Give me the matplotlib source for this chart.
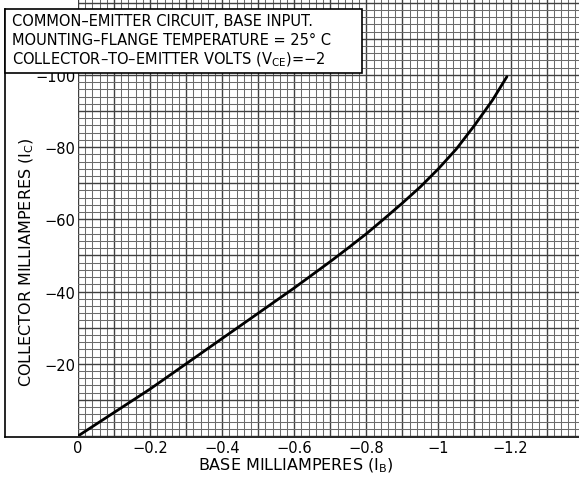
import numpy as np
import matplotlib
matplotlib.use("Agg")
import matplotlib.pyplot as plt
from matplotlib.patches import Rectangle
from matplotlib.lines import Line2D

# Transfer characteristic: base current vs collector current
ib = [0, -0.1, -0.2, -0.3, -0.4, -0.5, -0.6, -0.7, -0.75, -0.8, -0.85, -0.9,
      -0.95, -1.0, -1.05, -1.1, -1.15, -1.19]
ic = [0, -6.5, -13, -20, -27, -34, -41, -48.3, -52.1, -56, -60.2, -64.5,
      -69, -74, -79.5, -86, -93, -99.5]

xticks = [0, -0.2, -0.4, -0.6, -0.8, -1.0, -1.2]
xticklabels = ["0", "\u22120.2", "\u22120.4", "\u22120.6", "\u22120.8", "\u22121", "\u22121.2"]
yticks = [-20, -40, -60, -80, -100]
yticklabels = ["\u221220", "\u221240", "\u221260", "\u221280", "\u2212100"]

title_lines = [
    "COMMON\u2013EMITTER CIRCUIT, BASE INPUT.",
    "MOUNTING\u2013FLANGE TEMPERATURE = 25\u00b0 C",
    "COLLECTOR\u2013TO\u2013EMITTER VOLTS (V$_{\\mathrm{CE}}$)=\u22122",
]

W, H = 579, 481
fig = plt.figure(figsize=(W / 100, H / 100), dpi=100)
ax = fig.add_axes([78 / W, (H - 437) / H, 1 - 78 / W, 437 / H])

ax.set_xlim(0, -1.39)
ax.set_ylim(0, -121)

# graph paper
for x in np.arange(0, -1.40, -0.02):
    major = abs(round(x / 0.1) * 0.1 - x) < 1e-6
    ax.axvline(x, color="0.25" if major else "0.42", lw=1.0 if major else 0.75, zorder=1)
for y in np.arange(0, -122, -2):
    major = int(round(y)) % 10 == 0
    ax.axhline(y, color="0.25" if major else "0.42", lw=1.0 if major else 0.75, zorder=1)

ax.plot(ib, ic, color="black", lw=2.0, zorder=3, solid_capstyle="round",
        solid_joinstyle="round")

ax.set_xticks(xticks)
ax.set_xticklabels(xticklabels, fontsize=10.5)
ax.set_yticks(yticks)
ax.set_yticklabels(yticklabels, fontsize=10.5)
ax.tick_params(length=0, pad=3)
ax.tick_params(axis="y", pad=2)
for s in ax.spines.values():
    s.set_visible(False)

fig.text(296 / W, 1 - 466 / H, "BASE MILLIAMPERES (I$_{\\mathrm{B}}$)", fontsize=11.5,
         ha="center", va="center")
fig.text(27 / W, 1 - 262 / H, "COLLECTOR MILLIAMPERES (I$_{\\mathrm{C}}$)", fontsize=11.5,
         ha="center", va="center", rotation=90)

# frame and title box
fig.add_artist(Rectangle((5 / W, 1 - 74 / H), 357 / W, 64 / H, transform=fig.transFigure,
                         facecolor="white", edgecolor="black", lw=1.2, zorder=5))
fig.add_artist(Line2D([5 / W, 5 / W], [1 - 10 / H, 1 - 438 / H], color="black", lw=1.2))
fig.add_artist(Line2D([5 / W, 1], [1 - 438 / H, 1 - 438 / H], color="black", lw=1.2))
for i, line in enumerate(title_lines):
    fig.text(12 / W, 1 - (22 + 19 * i) / H, line, fontsize=10.5, ha="left", va="center", zorder=6)

fig.savefig("out.png", dpi=100)
